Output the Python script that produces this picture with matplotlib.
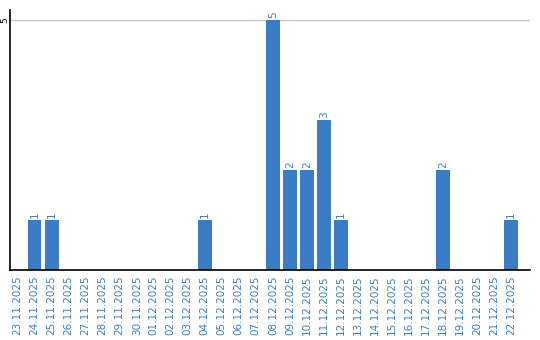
import datetime as dt
import matplotlib
matplotlib.use("Agg")
import matplotlib.pyplot as plt

start = dt.date(2025, 11, 23)
dates = [(start + dt.timedelta(days=i)).strftime("%d.%m.%Y") for i in range(30)]
counts = [0, 1, 1, 0, 0, 0, 0, 0, 0, 0,
          0, 1, 0, 0, 0, 5, 2, 2, 3, 1,
          0, 0, 0, 0, 0, 2, 0, 0, 0, 1]

BLUE = "#3b7dc4"

fig = plt.figure(figsize=(5.4, 3.4), dpi=100)
ax = fig.add_axes([10 / 540, 70 / 340, 520 / 540, 260 / 340])

x = list(range(len(dates)))
ax.axhline(5, color="#c8c8c8", lw=1, zorder=0)
ax.bar(x, counts, width=0.82, color=BLUE, zorder=2)
for xi, c in zip(x, counts):
    if c > 0:
        ax.text(xi, c + 0.04, str(c), rotation=90, ha="center", va="bottom",
                fontsize=7.5, color=BLUE)

ax.set_xlim(-0.44, 30.1)
ax.set_ylim(0, 5.2)
ax.set_xticks(x)
ax.set_xticklabels(dates, rotation=90, fontsize=7.5, color=BLUE)
ax.set_yticks([5])
ax.set_yticklabels(["5"], rotation=90, fontsize=6.5, rotation_mode="anchor",
                   ha="center", va="baseline")
ax.tick_params(axis="x", length=0, pad=4)
ax.tick_params(axis="y", length=0, pad=2)
for s in ["top", "right"]:
    ax.spines[s].set_visible(False)
ax.spines["left"].set_linewidth(1.2)
ax.spines["bottom"].set_linewidth(1.2)

fig.savefig("out.png", dpi=100)
